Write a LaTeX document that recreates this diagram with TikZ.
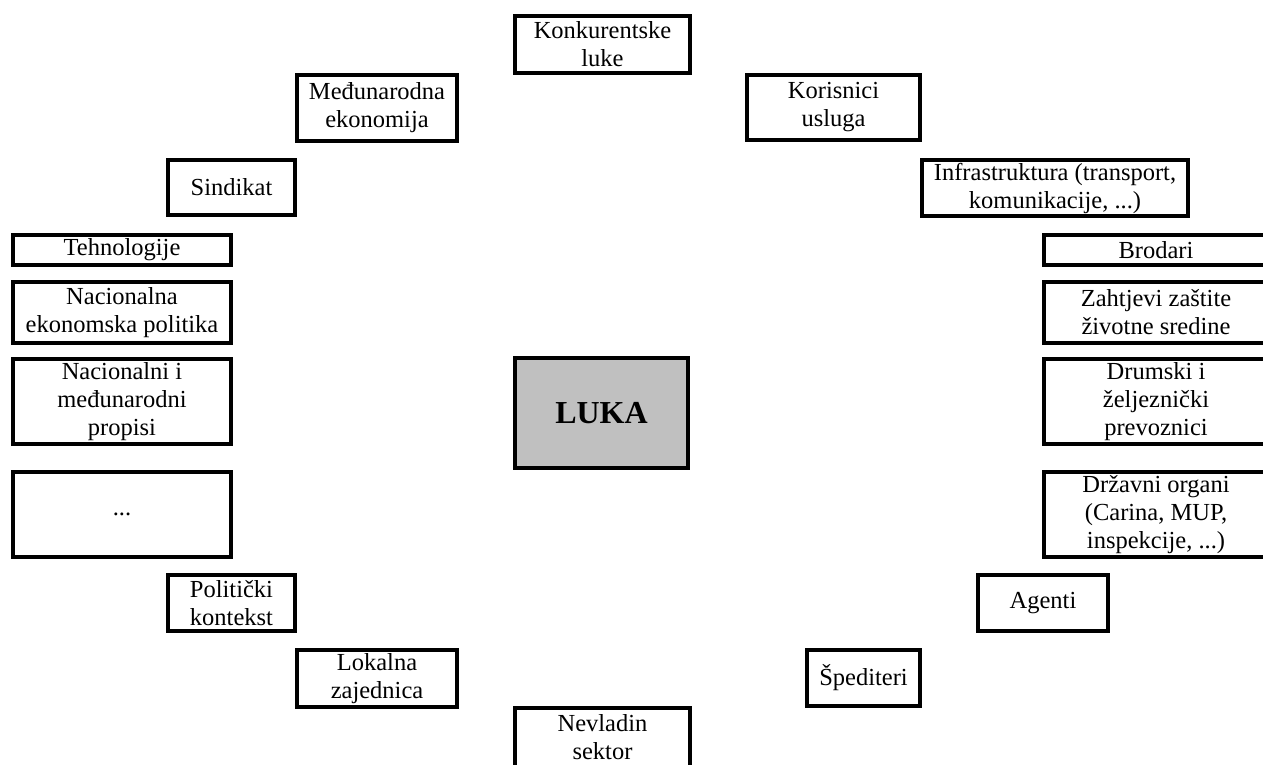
\documentclass[tikz,border=0pt]{standalone}
\usepackage{fontspec}
\setmainfont{Liberation Serif}
\usetikzlibrary{positioning}
\definecolor{lukagray}{RGB}{192,192,192}

\begin{document}
\begin{tikzpicture}[x=1pt, y=-1pt, every node/.style={draw, line width=4pt, align=center, inner sep=0pt, font=\fontsize{24.5}{28}\selectfont},
    okvir/.style 2 args={minimum width=#1, minimum height=#2}]

        \useasboundingbox (0,0) rectangle (1263,764);

        % Centre
        \node[okvir={173pt}{110pt}, fill=lukagray, font=\fontsize{32}{38}\selectfont\bfseries] (luka) at (601.5,413) {LUKA};

        % Top and bottom
        \node[okvir={175pt}{57pt}] (konk) at (602.5,44) {Konkurentske\\luke};
        \node[okvir={175pt}{70pt}, text depth=13pt] (nevl) at (602.5,743) {Nevladin\\sektor};

        % Left side
        \node[okvir={160pt}{66pt}] (medj) at (377,108) {Međunarodna\\ekonomija};
        \node[okvir={127pt}{55pt}] (sind) at (231.5,187.5) {Sindikat};
        \node[okvir={218pt}{30pt}] (tehn) at (122,250) {Tehnologije};
        \node[okvir={218pt}{61pt}] (nacek) at (122,312.5) {Nacionalna\\ekonomska politika};
        \node[okvir={218pt}{85pt}] (prop) at (122,401.5) {Nacionalni i\\međunarodni\\propisi};
        \node[okvir={218pt}{85pt}] (ostalo) at (122,514.5) {...};
        \node[okvir={127pt}{56pt}] (polit) at (231.5,603) {Politički\\kontekst};
        \node[okvir={160pt}{57pt}] (lokal) at (377,678.5) {Lokalna\\zajednica};

        % Right side
        \node[okvir={173pt}{65pt}] (koris) at (833.5,107.5) {Korisnici\\usluga};
        \node[okvir={266pt}{56pt}] (infra) at (1055,188) {Infrastruktura (transport,\\komunikacije, ...)};
        \node[okvir={225pt}{30pt}] (brod) at (1156,250) {Brodari};
        \node[okvir={225pt}{61pt}] (zast) at (1156,312.5) {Zahtjevi zaštite\\životne sredine};
        \node[okvir={225pt}{85pt}] (prev) at (1156,401.5) {Drumski i\\željeznički\\prevoznici};
        \node[okvir={225pt}{85pt}] (drz) at (1156,514.5) {Državni organi\\(Carina, MUP,\\inspekcije, ...)};
        \node[okvir={130pt}{56pt}] (agen) at (1043,603) {Agenti};
        \node[okvir={113pt}{56pt}] (sped) at (863.5,678) {Špediteri};
    \end{tikzpicture}
\end{document}
